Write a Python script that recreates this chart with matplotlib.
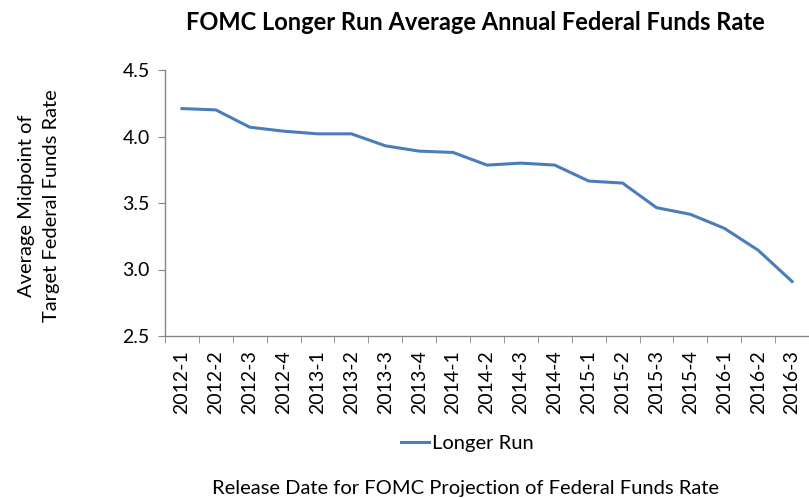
import numpy as np
import matplotlib.pyplot as plt
from matplotlib.ticker import FixedLocator

plt.rcParams['font.family'] = ['Lato', 'DejaVu Sans']

# release dates and longer run projections
releases = ['2012-1', '2012-2', '2012-3', '2012-4', '2013-1', '2013-2', '2013-3',
            '2013-4', '2014-1', '2014-2', '2014-3', '2014-4', '2015-1', '2015-2',
            '2015-3', '2015-4', '2016-1', '2016-2', '2016-3']
longer_run = [4.21, 4.20, 4.07, 4.04, 4.02, 4.02, 3.93, 3.89, 3.88, 3.785,
              3.80, 3.785, 3.665, 3.65, 3.465, 3.415, 3.31, 3.145, 2.91]
y_ticks = [2.5, 3.0, 3.5, 4.0, 4.5]

W, H = 809, 498
fig = plt.figure(figsize=(W / 100, H / 100), dpi=100)
ax = fig.add_axes([165 / W, 1 - 336 / H, (W - 165) / W, (336 - 70) / H])

x = np.arange(len(releases))
ax.plot(x, longer_run, color='#4A7EBB', lw=2.2, label='Longer Run')

ax.set_xlim(-0.5, len(releases) - 0.5)
ax.set_ylim(2.5, 4.5)
ax.set_yticks(y_ticks)
ax.set_yticklabels([f'{v:.1f}' for v in y_ticks], fontsize=14)
ax.set_xticks(x)
ax.set_xticklabels(releases, rotation=90, fontsize=14)
ax.xaxis.set_minor_locator(FixedLocator(np.arange(-0.5, len(releases), 1)))
ax.tick_params(axis='x', which='major', length=0, pad=10)
ax.tick_params(axis='x', which='minor', length=5, color='#868686', direction='out')
ax.tick_params(axis='y', length=5, color='#868686', pad=6)

for s in ['top', 'right']:
    ax.spines[s].set_visible(False)
for s in ['left', 'bottom']:
    ax.spines[s].set_color('#868686')
    ax.spines[s].set_linewidth(1.0)

# axis titles and chart title
fig.text(39 / W, 1 - 206 / H, 'Average Midpoint of\nTarget Federal Funds Rate',
         rotation=90, ha='center', va='center', multialignment='center',
         fontsize=14.5, linespacing=1.55)
fig.text(475 / W, 1 - 23 / H, 'FOMC Longer Run Average Annual Federal Funds Rate',
         ha='center', va='center', fontsize=17, fontweight='bold')
fig.text(466 / W, 1 - 488 / H, 'Release Date for FOMC Projection of Federal Funds Rate',
         ha='center', va='center', fontsize=14.5)

fig.legend(loc='center', bbox_to_anchor=(467 / W, 1 - 443 / H), frameon=False,
           fontsize=14.5, handlelength=1.4, handletextpad=0.15)

fig.savefig('out.png', dpi=100)
